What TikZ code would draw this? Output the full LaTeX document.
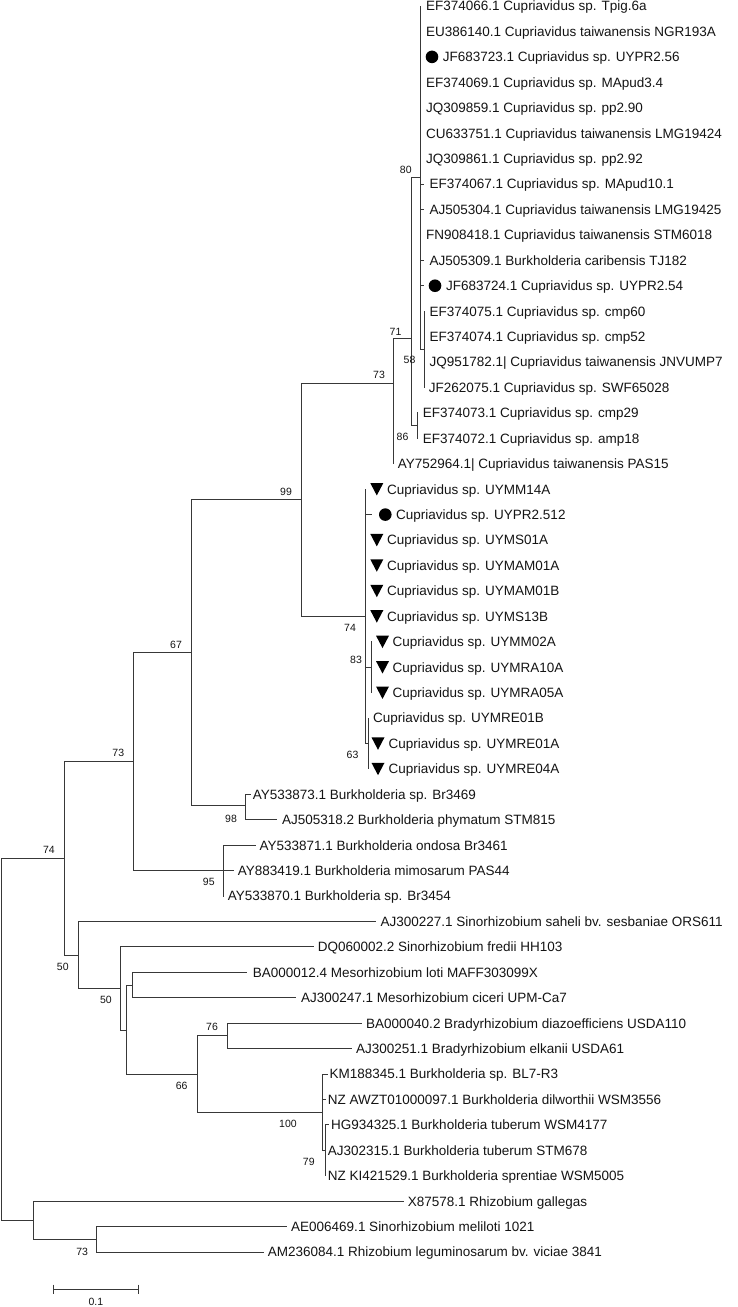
\documentclass[tikz,border=0pt]{standalone}
\usepackage{fontspec}
\setmainfont{Liberation Sans}
\begin{document}
\begin{tikzpicture}[x=1pt,y=-1pt,
  br/.style={draw=black!78,line width=1pt,line cap=rect},
  lf/.style={anchor=base west,inner sep=0pt,font=\fontsize{13.5}{14}\selectfont,text=black!92},
  bs/.style={inner sep=0pt,font=\fontsize{10.5}{11}\selectfont,text=black!92},
  dot/.style={circle,fill=black,inner sep=0pt,minimum size=12.6pt},
  dtri/.pic={\fill[black] (-6.5,-6.1) -- (6.5,-6.1) -- (0,6.3) -- cycle;}]
\useasboundingbox (0,0) rectangle (738,1307);
% leaf tips
\foreach \i/\xx in {1/420.7,2/420.7,3/420.7,4/420.7,5/420.7,6/420.7,7/420.7,8/423.3,9/423.3,10/420.7,11/423.3,12/423.3,
  13/424.3,14/424.3,15/424.3,16/424.3,17/417.7,18/417.7,19/393.3,20/365.7,21/371.7,22/365.7,23/365.7,24/365.7,25/365.7,
  26/371.5,27/371.5,28/371.5,29/368.3,30/368.3,31/368.3,32/250,33/276,34/255,35/233.3,36/223.3,37/375,38/313.3,
  39/246.7,40/295,41/361.7,42/351.7,43/327,44/325,45/328,46/325.5,47/325.5,48/403,49/286.7,50/263.3}
  \coordinate (t\i) at (\xx,{6+(\i-1)*25.43});
% internal nodes
\coordinate (n80) at (420.7,177.7);
\coordinate (n58) at (424.3,349.3);
\coordinate (n71) at (411.7,338);
\coordinate (n86) at (417.7,425.6);
\coordinate (n73a) at (393.3,383.3);
\coordinate (n99) at (301,499);
\coordinate (n74a) at (365.7,616.3);
\coordinate (n83) at (371.5,667.2);
\coordinate (n63) at (368.3,743.5);
\coordinate (n67) at (191,652);
\coordinate (n98) at (245.7,805);
\coordinate (n95) at (223.3,870.6);
\coordinate (n73b) at (133.3,761.8);
\coordinate (n74b) at (64.3,858.3);
\coordinate (n50a) at (78.3,955);
\coordinate (n50b) at (120.7,988.6);
\coordinate (nX) at (126,1030);
\coordinate (nMe) at (132.7,985.1);
\coordinate (n66) at (197.3,1074.5);
\coordinate (n76) at (227.3,1035.9);
\coordinate (n100) at (322.5,1112.2);
\coordinate (n79) at (325.5,1150.35);
\coordinate (nR2) at (33.3,1220.3);
\coordinate (n73c) at (96.7,1239.4);
\coordinate (root) at (1.7,1039.3);
% branches
\foreach \p/\c in {n80/t1,n80/t2,n80/t3,n80/t4,n80/t5,n80/t6,n80/t7,n80/t8,n80/t9,n80/t10,n80/t11,n80/t12,n80/n58,
  n58/t13,n58/t14,n58/t15,n58/t16,n71/n80,n71/n86,n86/t17,n86/t18,n73a/n71,n73a/t19,n99/n73a,n99/n74a,
  n74a/t20,n74a/t21,n74a/t22,n74a/t23,n74a/t24,n74a/t25,n74a/n83,n74a/n63,n83/t26,n83/t27,n83/t28,
  n63/t29,n63/t30,n63/t31,n67/n99,n67/n98,n98/t32,n98/t33,n73b/n67,n73b/n95,n95/t34,n95/t35,n95/t36,
  n74b/n73b,n74b/n50a,n50a/t37,n50a/n50b,n50b/t38,n50b/nX,nX/nMe,nX/n66,nMe/t39,nMe/t40,n66/n76,n66/n100,
  n76/t41,n76/t42,n100/t43,n100/t44,n100/n79,n79/t45,n79/t46,n79/t47,root/n74b,root/nR2,nR2/t48,nR2/n73c,
  n73c/t49,n73c/t50}
  \draw[br] (\p) |- (\c);
% leaf labels
\foreach \i/\xx/\tx in {1/426/EF374066.1 Cupriavidus sp. Tpig.6a,
  2/426/EU386140.1 Cupriavidus taiwanensis NGR193A,
  3/442.6/JF683723.1 Cupriavidus sp. UYPR2.56,
  4/426/EF374069.1 Cupriavidus sp. MApud3.4,
  5/426/JQ309859.1 Cupriavidus sp. pp2.90,
  6/426/CU633751.1 Cupriavidus taiwanensis LMG19424,
  7/426/JQ309861.1 Cupriavidus sp. pp2.92,
  8/429.3/EF374067.1 Cupriavidus sp. MApud10.1,
  9/429.3/AJ505304.1 Cupriavidus taiwanensis LMG19425,
  10/426/FN908418.1 Cupriavidus taiwanensis STM6018,
  11/429.3/AJ505309.1 Burkholderia caribensis TJ182,
  12/446/JF683724.1 Cupriavidus sp. UYPR2.54,
  13/429.3/EF374075.1 Cupriavidus sp. cmp60,
  14/429.3/EF374074.1 Cupriavidus sp. cmp52,
  15/429.3/JQ951782.1| Cupriavidus taiwanensis JNVUMP7,
  16/428.6/JF262075.1 Cupriavidus sp. SWF65028,
  17/422.6/EF374073.1 Cupriavidus sp. cmp29,
  18/422.6/EF374072.1 Cupriavidus sp. amp18,
  19/397.6/AY752964.1| Cupriavidus taiwanensis PAS15,
  20/386.8/Cupriavidus sp. UYMM14A,
  21/396/Cupriavidus sp. UYPR2.512,
  22/386.8/Cupriavidus sp. UYMS01A,
  23/386.8/Cupriavidus sp. UYMAM01A,
  24/386.8/Cupriavidus sp. UYMAM01B,
  25/386.8/Cupriavidus sp. UYMS13B,
  26/392.3/Cupriavidus sp. UYMM02A,
  27/392.3/Cupriavidus sp. UYMRA10A,
  28/392.3/Cupriavidus sp. UYMRA05A,
  29/372.8/Cupriavidus sp. UYMRE01B,
  30/388.3/Cupriavidus sp. UYMRE01A,
  31/388.3/Cupriavidus sp. UYMRE04A,
  32/252.6/AY533873.1 Burkholderia sp. Br3469,
  33/282/AJ505318.2 Burkholderia phymatum STM815,
  34/259.3/AY533871.1 Burkholderia ondosa Br3461,
  35/237.6/AY883419.1 Burkholderia mimosarum PAS44,
  36/227.6/AY533870.1 Burkholderia sp. Br3454,
  37/380.3/AJ300227.1 Sinorhizobium saheli bv. sesbaniae ORS611,
  38/317.6/DQ060002.2 Sinorhizobium fredii HH103,
  39/252.6/BA000012.4 Mesorhizobium loti MAFF303099X,
  40/301/AJ300247.1 Mesorhizobium ciceri UPM-Ca7,
  41/366/BA000040.2 Bradyrhizobium diazoefficiens USDA110,
  42/356/AJ300251.1 Bradyrhizobium elkanii USDA61,
  43/329.3/KM188345.1 Burkholderia sp. BL7-R3,
  44/327.6/NZ AWZT01000097.1 Burkholderia dilworthii WSM3556,
  45/331/HG934325.1 Burkholderia tuberum WSM4177,
  46/327.6/AJ302315.1 Burkholderia tuberum STM678,
  47/327.6/NZ KI421529.1 Burkholderia sprentiae WSM5005,
  48/407.6/X87578.1 Rhizobium gallegas,
  49/291/AE006469.1 Sinorhizobium meliloti 1021,
  50/267.6/AM236084.1 Rhizobium leguminosarum bv. viciae 3841}
  \node[lf] (L\i) at (\xx,{6+(\i-1)*25.43+4.85}) {\tx};
% markers
\node[dot] (m3) at (432,{6+2*25.43}) {};
\node[dot] (m12) at (435,{6+11*25.43}) {};
\node[dot] (m21) at (385.3,{6+20*25.43}) {};
\foreach \i/\xx in {20/376.8,22/376.8,23/376.8,24/376.8,25/376.8,26/382.5,27/382.5,28/382.5,30/378,31/378}
  \pic at (\xx,{6+(\i-1)*25.43}) {dtri};
% bootstrap values
\node[bs] (b80) at (405.8,169.5) {80};
\node[bs] (b71) at (395.5,332) {71};
\node[bs] (b58) at (409.5,360) {58};
\node[bs] (b73a) at (379,374.5) {73};
\node[bs] (b86) at (402.5,437) {86};
\node[bs] (b99) at (286,491.5) {99};
\node[bs] (b74a) at (350,628.3) {74};
\node[bs] (b83) at (356,659.5) {83};
\node[bs] (b63) at (352.5,755) {63};
\node[bs] (b67) at (176,645) {67};
\node[bs] (b73b) at (118.3,752.8) {73};
\node[bs] (b98) at (231,819) {98};
\node[bs] (b95) at (208.8,881.7) {95};
\node[bs] (b74b) at (49,849.5) {74};
\node[bs] (b50a) at (62.8,967.2) {50};
\node[bs] (b50b) at (106,1000) {50};
\node[bs] (b76) at (212,1027) {76};
\node[bs] (b66) at (181.7,1086.2) {66};
\node[bs] (b100) at (288,1124) {100};
\node[bs] (b79) at (308.8,1162) {79};
\node[bs] (b73c) at (82.2,1251.8) {73};
% scale bar
\coordinate (sbL) at (53.3,1289.3);
\coordinate (sbR) at (138.3,1289.3);
\draw[br,line cap=butt] (sbL) -- (sbR);
\draw[br,line cap=butt] ([yshift=4.7pt]sbL) -- ([yshift=-4.7pt]sbL);
\draw[br,line cap=butt] ([yshift=4.7pt]sbR) -- ([yshift=-4.7pt]sbR);
\node[bs] (sbt) at (95.8,1301.7) {0.1};
\end{tikzpicture}
\end{document}
